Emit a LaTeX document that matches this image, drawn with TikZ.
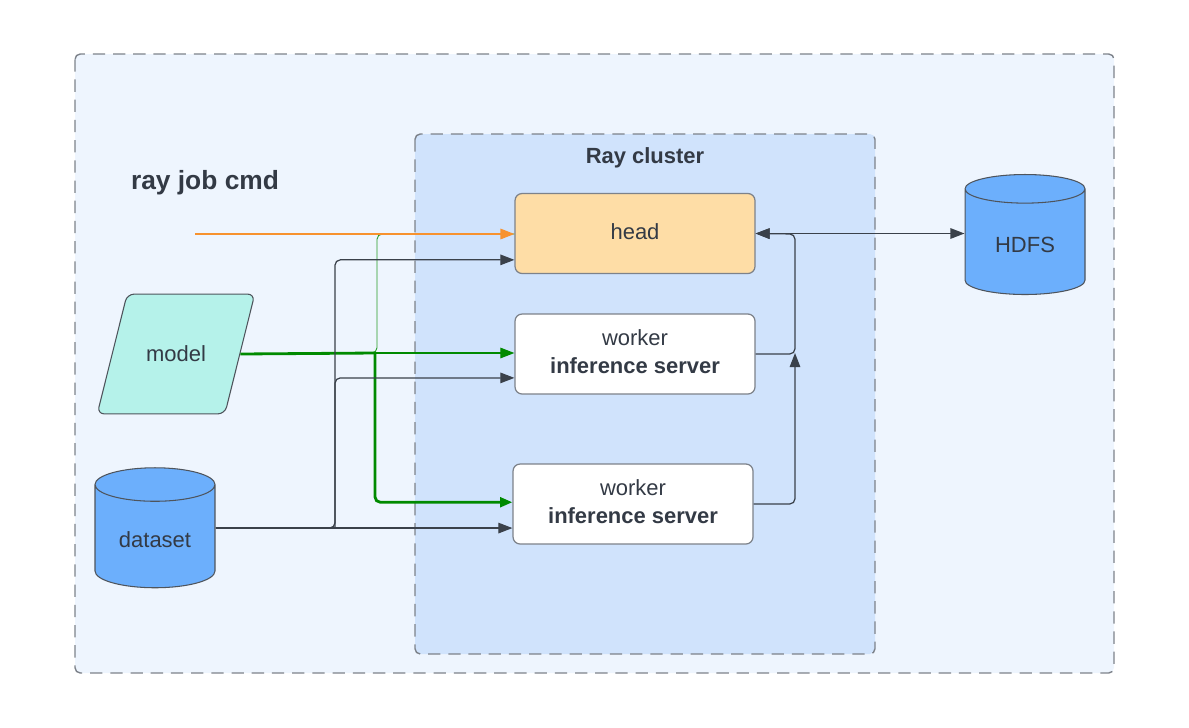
\documentclass[tikz,border=0pt]{standalone}
\usepackage{fontspec}
\setmainfont{Liberation Sans}
\usepackage{tikz}
\usetikzlibrary{shapes.geometric,arrows.meta,positioning,backgrounds}
\definecolor{outerbg}{RGB}{238,245,254}
\definecolor{clusterbg}{RGB}{208,227,252}
\definecolor{headfill}{RGB}{254,221,166}
\definecolor{modelfill}{RGB}{181,242,234}
\definecolor{dbfill}{RGB}{108,175,252}
\definecolor{linegray}{RGB}{58,65,74}
\definecolor{edgegray}{RGB}{125,130,138}
\definecolor{txtgray}{RGB}{51,58,69}
\definecolor{jobline}{RGB}{247,146,46}
\definecolor{modelline}{RGB}{0,138,0}

\begin{document}
\begin{tikzpicture}[x=0.02cm,y=-0.02cm,
          font=\fontsize{12.5}{15.5}\selectfont,text=txtgray,
          box/.style={draw=edgegray,rounded corners=4pt,line width=0.7pt,
                      minimum width=4.8cm,minimum height=1.6cm,align=center},
          db/.style={cylinder,shape border rotate=90,aspect=0.4,
                     draw=linegray!90,fill=dbfill,line width=0.6pt,
                     minimum width=2.4cm,minimum height=2.4cm},
          para/.style={trapezium,trapezium left angle=76,trapezium right angle=104,
                       rounded corners=4pt,inner xsep=10.8pt,inner ysep=29.5pt,
                       draw=linegray!90,fill=modelfill,line width=0.6pt},
          frame/.style={draw=edgegray,line width=0.8pt,dash pattern=on 7pt off 4.5pt,
                        rounded corners=3pt},
          title/.style={font=\bfseries\fontsize{12.5}{15}\selectfont},
          wire/.style={draw=linegray,line width=0.7pt,rounded corners=3pt,
                       -{Triangle[length=8pt,width=6pt]}},
          gwire/.style={draw=modelline,line width=0.7pt,rounded corners=3pt,
                        -{Triangle[length=8pt,width=6pt]}}]
        \useasboundingbox (0,0) rectangle (1189,727);
        \draw[frame,fill=outerbg] (75,54) rectangle (1114,673);
        \draw[frame,fill=clusterbg] (415,134) rectangle (875,654);
        \node[title] (rctitle) at (645,158) {Ray cluster};
        \node[font=\bfseries\fontsize{15}{18}\selectfont] (jobtitle) at (205,183) {ray job cmd};
        \node[box,fill=headfill] (head) at (635,233.5) {\raisebox{2pt}{head}};
        \node[box,fill=white] (wk1) at (635,354) {\raisebox{3pt}{\begin{tabular}{@{}c@{}}worker\\\textbf{inference server}\end{tabular}}};
        \node[box,fill=white] (wk2) at (633,504) {\raisebox{3pt}{\begin{tabular}{@{}c@{}}worker\\\textbf{inference server}\end{tabular}}};
        \node[db] (hdfs) at (1025,245) {HDFS};
        \node[db] (data) at (155,540) {dataset};
        \node[para] (model) at (176,354) {model};
        \coordinate (cmd) at (195,234);
        \coordinate (dout) at ([yshift=6.8pt]data.east);
        \coordinate (msplit) at (375,353);
        \coordinate (dsplit) at (335,528);
        \coordinate (rtop) at (795,234);
        \coordinate (rjoin) at (795,353);
        \draw[modelline!85,line width=0.5pt,rounded corners=3pt]
          (msplit) -- ++(2,0) |- (cmd -| head.west);
        \draw[wire,draw=jobline,line width=0.9pt,-{Triangle[length=8pt,width=6pt,fill=jobline]}]
          (cmd) -- (cmd -| head.west);
        \draw[modelline,line width=1.6pt] (model.east) -- (msplit);
        \draw[gwire] (msplit) -- (msplit -| wk1.west);
        \draw[gwire,line width=1.6pt,-{Triangle[length=7pt,width=5.5pt]}]
          (msplit) |- ([yshift=1pt]wk2.west);
        \draw[wire] (dout) -- (dout -| wk2.west);
        \draw[wire] (dout) -- (dsplit) |- ([yshift=-15pt]head.west);
        \draw[wire] (dsplit) |- ([yshift=-13.6pt]wk1.west);
        \draw[wire] (wk1.east) -| (rtop) -- (head.east);
        \draw[wire] (wk2.east) -| (rjoin);
        \draw[wire,{Triangle[length=8pt,width=6pt]}-{Triangle[length=8pt,width=6pt]}]
          (head.east) -- (head.east -| hdfs.west);
      \end{tikzpicture}
\end{document}
